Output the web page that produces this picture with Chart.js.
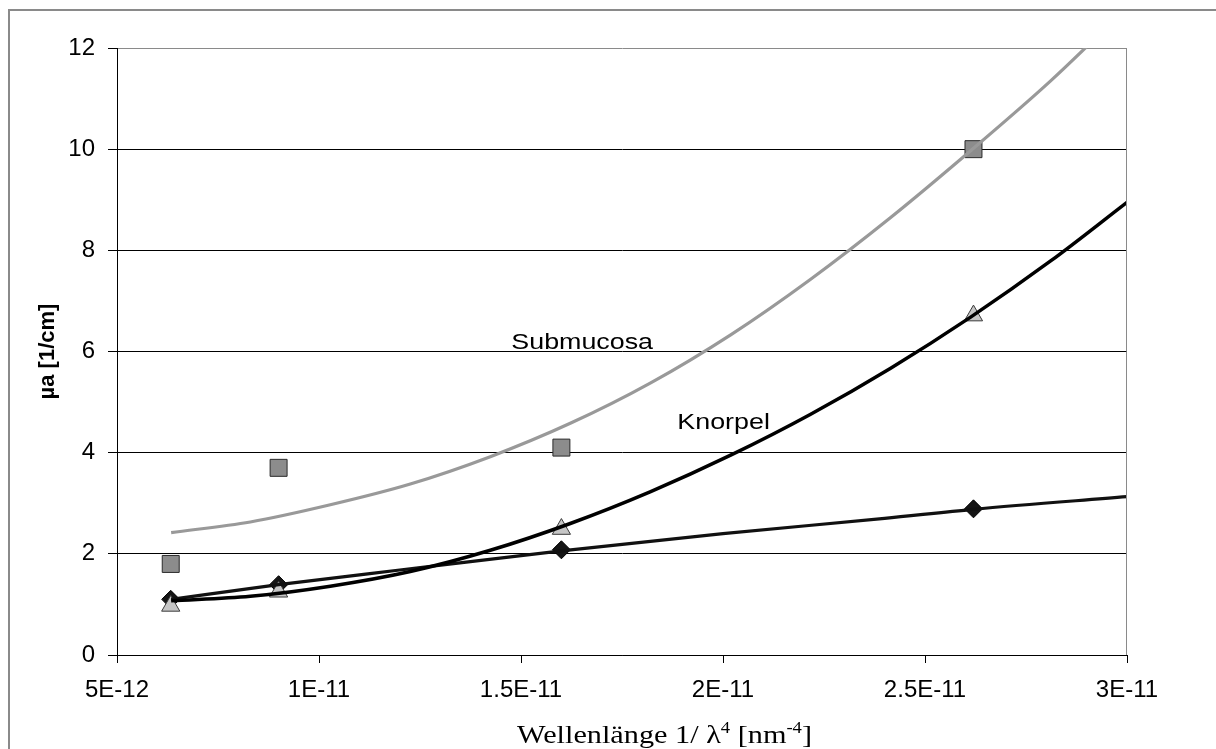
<!DOCTYPE html>
<html>
<head>
<meta charset="utf-8">
<script src="https://cdn.jsdelivr.net/npm/chart.js@4.4.1/dist/chart.umd.min.js"></script>
<style>
  html, body { margin: 0; padding: 0; background: #fff; }
  canvas { display: block; }
</style>
</head>
<body>
<canvas id="c" width="1216" height="749"></canvas>
<script>
// Measured wavelengths expressed as 1/λ^4 [nm^-4]
const waveX = [6.33e-12, 9.0e-12, 1.6e-11, 2.62e-11];

// Absorption coefficients µa [1/cm]
const submucosaY = [1.8, 3.7, 4.1, 10.0];
const knorpelY   = [0.97, 1.25, 2.49, 6.71];
const thirdY     = [1.1, 1.39, 2.08, 2.89];

// Trend curves, sampled along each fitted curve
const submucosaTrendX = [6.34e-12, 8.30e-12, 1.028e-11, 1.226e-11, 1.424e-11, 1.622e-11, 1.821e-11, 2.019e-11, 2.217e-11, 2.415e-11, 2.613e-11, 2.811e-11, 3.0e-11];
const submucosaTrendY = [2.42, 2.63, 2.97, 3.38, 3.92, 4.58, 5.38, 6.33, 7.43, 8.65, 9.97, 11.35, 12.8];

const knorpelTrendX = [6.34e-12, 8.30e-12, 1.028e-11, 1.226e-11, 1.424e-11, 1.622e-11, 1.821e-11, 2.019e-11, 2.217e-11, 2.415e-11, 2.613e-11, 2.811e-11, 3.0e-11];
const knorpelTrendY = [1.07, 1.16, 1.36, 1.65, 2.07, 2.60, 3.23, 3.95, 4.76, 5.67, 6.68, 7.79, 8.95];

const thirdTrendX = [6.34e-12, 9.0e-12, 1.2e-11, 1.6e-11, 2.0e-11, 2.4e-11, 2.62e-11, 3.0e-11];
const thirdTrendY = [1.10, 1.39, 1.68, 2.06, 2.40, 2.70, 2.88, 3.13];

// Axis ticks
const xTickValues = [5e-12, 1e-11, 1.5e-11, 2e-11, 2.5e-11, 3e-11];
const xTickLabels = ['5E-12', '1E-11', '1.5E-11', '2E-11', '2.5E-11', '3E-11'];
const yTickValues = [0, 2, 4, 6, 8, 10, 12];

// Series labels placed inside the plot
const seriesLabels = [
  { text: 'Submucosa', x: 1.476e-11, y: 6.04 },
  { text: 'Knorpel',   x: 1.887e-11, y: 4.47 }
];

const pts = (xs, ys) => xs.map((x, i) => ({ x, y: ys[i] }));

const sans = "'Liberation Sans', Arial, sans-serif";
const serif = "'Liberation Serif', 'Times New Roman', serif";

const decor = {
  id: 'decor',
  beforeDraw(chart) {
    const ctx = chart.ctx;
    ctx.save();
    ctx.fillStyle = '#fff';
    ctx.fillRect(0, 0, chart.width, chart.height);
    // outer frame
    ctx.strokeStyle = '#8a8a8a';
    ctx.lineWidth = 2;
    ctx.beginPath();
    ctx.moveTo(9, chart.height);
    ctx.lineTo(9, 10);
    ctx.lineTo(chart.width, 10);
    ctx.stroke();
    ctx.restore();
  },
  afterDraw(chart) {
    const ctx = chart.ctx;
    const a = chart.chartArea;
    const xs = chart.scales.x, ys = chart.scales.y;
    ctx.save();
    // plot area right edge
    ctx.strokeStyle = '#8a8a8a';
    ctx.lineWidth = 1;
    ctx.beginPath();
    ctx.moveTo(Math.round(a.right) - 0.5, a.top);
    ctx.lineTo(Math.round(a.right) - 0.5, a.bottom);
    ctx.stroke();

    // series labels
    ctx.fillStyle = '#000';
    ctx.font = '22px ' + sans;
    ctx.textBaseline = 'alphabetic';
    ctx.textAlign = 'left';
    for (const l of seriesLabels) {
      const px = xs.getPixelForValue(l.x), py = ys.getPixelForValue(l.y);
      ctx.save();
      ctx.translate(px, py);
      ctx.scale(1.22, 1);
      ctx.fillText(l.text, 0, 0);
      ctx.restore();
    }

    // y axis title
    ctx.save();
    ctx.translate(48, (a.top + a.bottom) / 2);
    ctx.rotate(-Math.PI / 2);
    ctx.font = 'bold 22px ' + sans;
    ctx.textAlign = 'center';
    ctx.textBaseline = 'middle';
    ctx.fillText('µa [1/cm]', 0, 0);
    ctx.restore();

    // x axis title with superscripts
    const parts = [
      { t: 'Wellenlänge 1/ λ', f: '26px ' + serif, dy: 0 },
      { t: '4', f: '16px ' + serif, dy: -10 },
      { t: ' [nm', f: '26px ' + serif, dy: 0 },
      { t: '-4', f: '16px ' + serif, dy: -10 },
      { t: ']', f: '26px ' + serif, dy: 0 }
    ];
    let w = 0;
    for (const p of parts) { ctx.font = p.f; p.w = ctx.measureText(p.t).width; w += p.w; }
    const titleWidth = 295;
    const sx = titleWidth / w;
    ctx.save();
    ctx.translate(517, 743);
    ctx.scale(sx, 1);
    ctx.textAlign = 'left';
    ctx.textBaseline = 'alphabetic';
    let cx = 0;
    for (const p of parts) { ctx.font = p.f; ctx.fillText(p.t, cx, p.dy); cx += p.w; }
    ctx.restore();
    ctx.restore();
  }
};

new Chart(document.getElementById('c'), {
  type: 'scatter',
  data: {
    datasets: [
      { type: 'line', label: 'Submucosa Trend', data: pts(submucosaTrendX, submucosaTrendY),
        borderColor: '#999999', borderWidth: 3.2, pointRadius: 0, cubicInterpolationMode: 'monotone', fill: false, order: 0 },
      { type: 'line', label: 'Knorpel Trend', data: pts(knorpelTrendX, knorpelTrendY),
        borderColor: '#000', borderWidth: 3.5, pointRadius: 0, cubicInterpolationMode: 'monotone', fill: false, order: 0 },
      { type: 'line', label: 'Trend', data: pts(thirdTrendX, thirdTrendY),
        borderColor: '#111', borderWidth: 3.2, pointRadius: 0, cubicInterpolationMode: 'monotone', fill: false, order: 0 },
      { label: 'Submucosa', data: pts(waveX, submucosaY), pointStyle: 'rect', pointRadius: 12,
        backgroundColor: '#8c8c8c', borderColor: '#2a2a2a', borderWidth: 1, order: 1 },
      { label: 'Knorpel', data: pts(waveX, knorpelY), pointStyle: 'triangle', pointRadius: 10.5,
        backgroundColor: '#c6c6c6', borderColor: '#3a3a3a', borderWidth: 1, order: 1 },
      { label: 'Serie 3', data: pts(waveX, thirdY), pointStyle: 'rectRot', pointRadius: 9,
        backgroundColor: '#151515', borderColor: '#000', borderWidth: 1, order: 1 }
    ]
  },
  options: {
    responsive: false,
    animation: false,
    events: [],
    layout: { padding: { left: 0, right: 89, top: 48, bottom: 0 } },
    plugins: { legend: { display: false }, tooltip: { enabled: false } },
    scales: {
      x: {
        type: 'linear', min: xTickValues[0], max: xTickValues[xTickValues.length - 1],
        afterBuildTicks: s => { s.ticks = xTickValues.map(v => ({ value: v })); },
        afterFit: s => { s.height = 94; },
        ticks: {
          autoSkip: false, maxRotation: 0, padding: 13, color: '#000',
          font: { family: sans, size: 24 },
          callback: (v, i) => xTickLabels[i]
        },
        grid: { drawOnChartArea: false, drawTicks: true, tickLength: 8, color: '#000' },
        border: { display: true, color: '#000', width: 1 }
      },
      y: {
        type: 'linear', min: 0, max: 12,
        afterBuildTicks: s => { s.ticks = yTickValues.map(v => ({ value: v })); },
        afterFit: s => { s.width = 117; },
        ticks: {
          padding: 13, color: '#000',
          font: { family: sans, size: 24 },
          callback: v => String(v)
        },
        grid: {
          color: c => (c.tick && c.tick.value === 12 ? '#8a8a8a' : '#000'),
          tickColor: '#000', tickLength: 9, lineWidth: 1
        },
        border: { display: true, color: '#000', width: 1 }
      }
    }
  },
  plugins: [decor]
});
</script>
</body>
</html>
